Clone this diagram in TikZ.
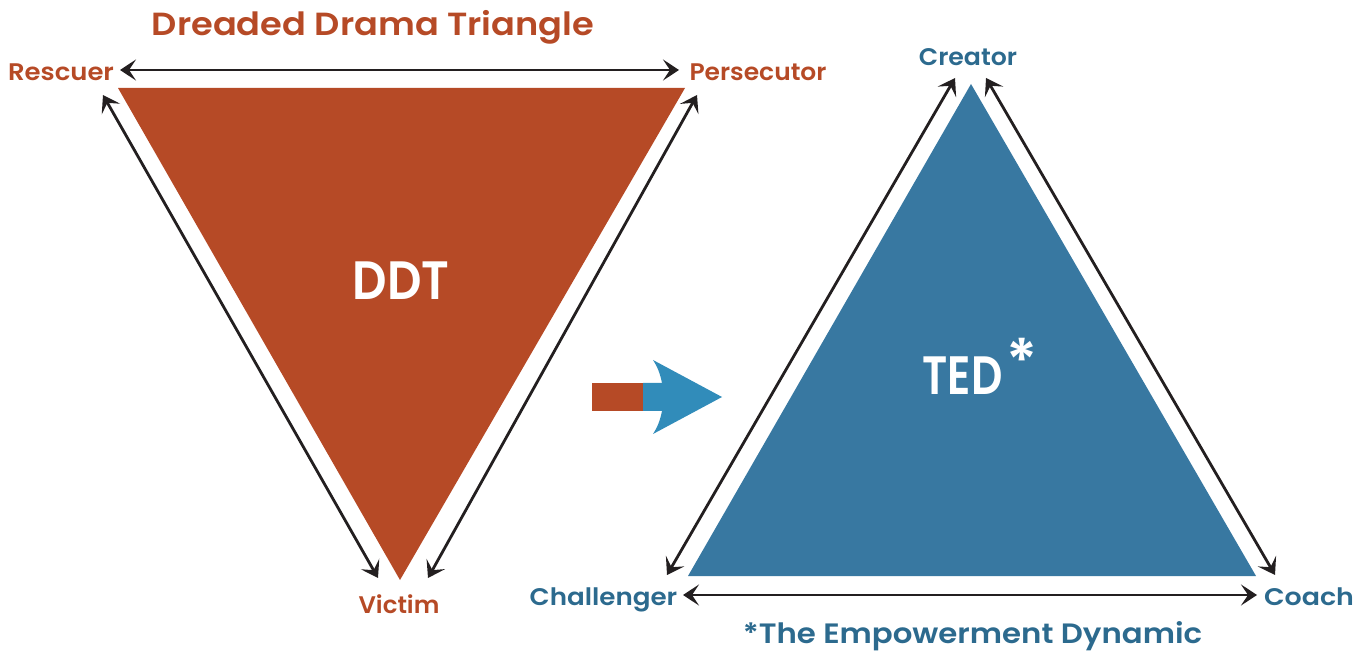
\documentclass[tikz,border=0pt]{standalone}
\usepackage{graphicx}
\usepackage{fontspec}
\setmainfont{Poppins}[BoldFont={Poppins SemiBold}]
\usetikzlibrary{arrows.meta}
\definecolor{ddtred}{HTML}{B64A26}
\definecolor{tedblue}{HTML}{3878A1}
\definecolor{tedtext}{HTML}{2C6A8E}
\definecolor{arrblue}{HTML}{318CBA}
\definecolor{ink}{HTML}{231F20}
\newcommand\hsq[2]{\scalebox{#1}[1]{#2}}
\tikzset{
  tip/.tip={Stealth[length=8pt,width=10.5pt,inset=3.5pt]},
  link/.style={draw=ink, line width=1.4pt, tip-tip},
  redlbl/.style={text=ddtred, font=\bfseries\fontsize{12}{14}\selectfont, inner sep=0pt, anchor=base},
  bluelbl/.style={text=tedtext, font=\bfseries\fontsize{12}{14}\selectfont, inner sep=0pt, anchor=base},
  bigtxt/.style={text=white, font=\bfseries\fontsize{27}{30}\selectfont, inner sep=0pt, anchor=base},
}
\begin{document}
\begin{tikzpicture}[x=0.5pt,y=-0.5pt]
\useasboundingbox (0,0) rectangle (1369,651);
% triangles
\coordinate (rA) at (118,88);
\coordinate (rB) at (685,88);
\coordinate (rC) at (400,580);
\fill[ddtred] (rA) -- (rB) -- (rC) -- cycle;
\coordinate (bA) at (971,84);
\coordinate (bB) at (688,576);
\coordinate (bC) at (1256,576);
\fill[tedblue] (bA) -- (bB) -- (bC) -- cycle;
% texts
\node[text=ddtred, font=\bfseries\fontsize{16}{18}\selectfont, inner sep=0pt, anchor=base] (title) at (373,36) {\hsq{1.1}{Dreaded Drama Triangle}};
\node[redlbl] (resc) at (61,81) {\hsq{1.08}{Rescuer}};
\node[redlbl] (pers) at (758,81) {\hsq{1.04}{Persecutor}};
\node[redlbl] (vict) at (399,613) {\hsq{1.02}{Victim}};
\node[bluelbl] (crea) at (968,66) {\hsq{1.05}{Creator}};
\node[bluelbl] (chal) at (603.5,605) {\hsq{1.09}{Challenger}};
\node[bluelbl] (coach) at (1309,605) {\hsq{1.12}{Coach}};
\node[text=tedtext, font=\bfseries\fontsize{14}{16}\selectfont, inner sep=0pt, anchor=base] (ted2) at (972.5,643) {\hsq{1.1}{*The Empowerment Dynamic}};
\node[bigtxt] (ddt) at (401,300) {\hsq{0.89}{DDT}};
\node[bigtxt] (ted) at (962.5,395) {\hsq{0.81}{TED}};
\node[text=white, font=\bfseries\fontsize{30}{32}\selectfont, inner sep=0pt] (ast) at (1022,360) {*};
% connector end points
\coordinate (p1) at (120,70);
\coordinate (p2) at (679,70);
\coordinate (p3) at (103,95);
\coordinate (p4) at (378,578);
\coordinate (p5) at (697,95);
\coordinate (p6) at (428,578);
\coordinate (p7) at (955,78);
\coordinate (p8) at (667,575);
\coordinate (p9) at (986,78);
\coordinate (p10) at (1275,575);
\coordinate (p11) at (683,595);
\coordinate (p12) at (1257,595);
\draw[link] (p1) -- (p2);
\draw[link] (p3) -- (p4);
\draw[link] (p5) -- (p6);
\draw[link] (p7) -- (p8);
\draw[link] (p9) -- (p10);
\draw[link] (p11) -- (p12);
% middle arrow
\fill[ddtred] (592,383) rectangle (643.5,411);
\fill[arrblue] (643,383) -- (662,383) .. controls (660,373) and (657,366) .. (653,360) -- (722,397) -- (653,434) .. controls (657,428) and (660,421) .. (662,411) -- (643,411) -- cycle;
\end{tikzpicture}
\end{document}
